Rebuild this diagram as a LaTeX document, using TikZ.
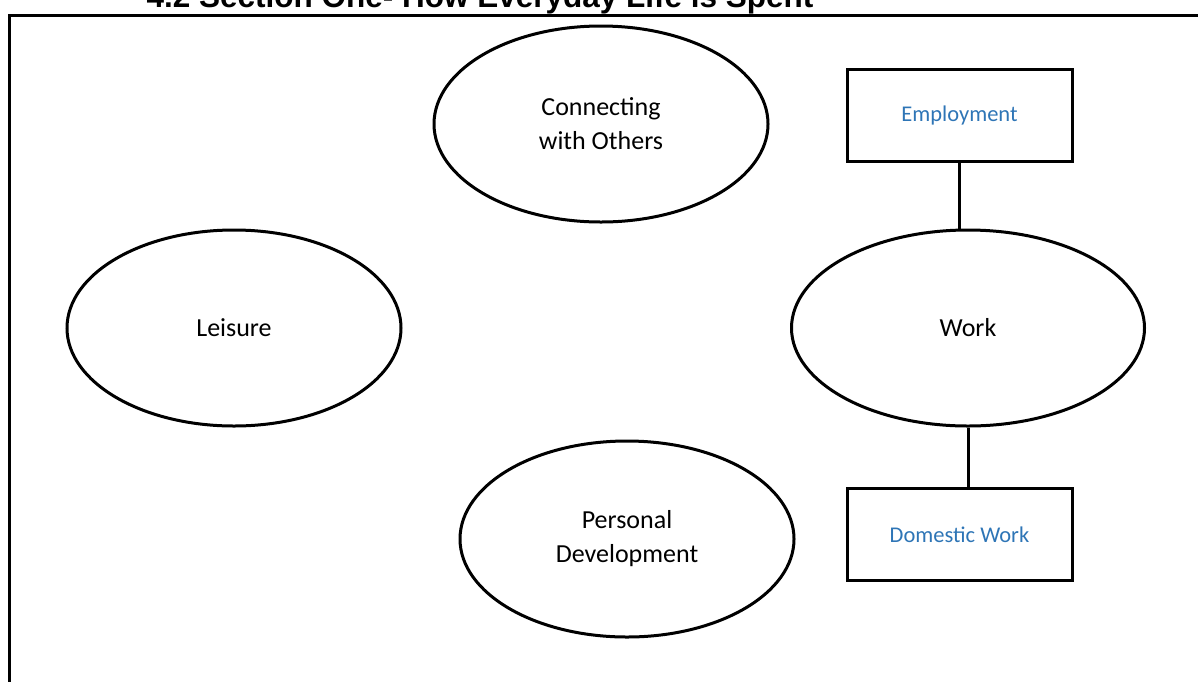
\documentclass[tikz,border=0pt]{standalone}
\usepackage{fontspec}
\setmainfont{Carlito}
\newfontfamily\titlefont{Liberation Sans}
\usetikzlibrary{shapes.geometric}
\definecolor{boxblue}{RGB}{46,117,182}
\begin{document}
\begin{tikzpicture}[x=1pt,y=-1pt,
  oval/.style={ellipse,draw,line width=3pt,inner sep=0pt,minimum width=334pt,minimum height=196pt,align=center,font=\fontsize{26}{34}\selectfont},
  catbox/.style={rectangle,draw,line width=3pt,inner sep=0pt,minimum width=225pt,minimum height=92pt,text=boxblue,font=\fontsize{22.5}{27}\selectfont},
  link/.style={line width=3pt}]
\useasboundingbox (0,0) rectangle (1198,681);
\begin{scope}
\clip (0,0) rectangle (1198,681);
\node[anchor=base,inner sep=0pt,font=\titlefont\bfseries\fontsize{31.5}{36}\selectfont] (title) at (480,7) {4.2 Section One- How Everyday Life is Spent};
\coordinate (ftl) at (9,15);
\coordinate (ftr) at (1200,15);
\coordinate (fbl) at (9,683);
\draw[line width=3pt] (fbl) -- (ftl) -- (ftr);
\end{scope}
\node[oval] (conn) at (601,124) {Connecting\\with Others};
\node[oval] (leis) at (234,328) {Leisure};
\node[oval,minimum width=353pt] (work) at (968,328) {Work};
\node[oval] (pers) at (627,539) {Personal\\Development};
\node[catbox] (emp) at (959.5,115) {Employment};
\node[catbox] (dom) at (959.5,534.5) {Domestic Work};
\draw[link] (emp.south) -- (emp.south |- work.north);
\draw[link] (work.south) -- (work.south |- dom.north);
\end{tikzpicture}
\end{document}
